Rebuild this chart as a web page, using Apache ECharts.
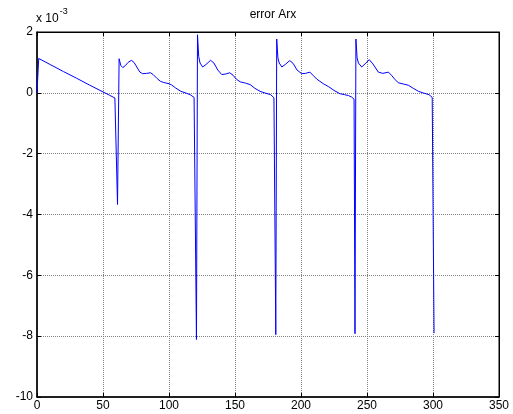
<!DOCTYPE html>
<html>
<head>
<meta charset="utf-8">
<script src="https://cdn.jsdelivr.net/npm/echarts@6/dist/echarts.min.js"></script>
<style>
html,body{margin:0;padding:0;background:#fff;}
#c{width:513px;height:414px;}
</style>
</head>
<body>
<div id="c"></div>
<script>
// x values (time) and y values (error, in units of 1e-3)
var xVals = [
  0, 1.3, 10, 20, 30, 40, 50, 55, 59, 60,
  61, 62.2, 63.5, 65, 67, 69, 71.5, 73.5, 76, 78,
  80, 83, 86, 88, 91, 93.5, 96, 100, 102, 105,
  109, 113, 116, 119, 120,
  120.8, 121.6, 122.5, 123.5, 125.5, 128, 131.5, 134, 137, 140,
  143, 146, 148.5, 151, 154, 158, 161.5, 165, 169, 173,
  177, 179.5, 180.3,
  180.9, 181.6, 182.5, 183.5, 185.5, 188, 191.5, 194, 197, 200.5,
  203.5, 206.8, 209, 212, 216.9, 221, 225, 229.5, 233, 236,
  238.4, 240.2,
  240.9, 241.6, 242.5, 243.5, 246, 248.5, 251.7, 254.5, 258.6, 262,
  266.2, 268.5, 271, 273.7, 277.5, 281.3, 285, 289, 293, 297,
  299.4, 300.2,
  300.8
];
var yVals = [
  0, 1.13, 0.93, 0.70, 0.48, 0.25, 0.03, -0.08, -0.17, -0.21,
  -3.67, 1.12, 0.90, 0.83, 0.90, 1.00, 1.07, 1.00, 0.82, 0.68,
  0.63, 0.64, 0.66, 0.60, 0.47, 0.38, 0.34, 0.30, 0.26, 0.16,
  0.05, -0.01, -0.06, -0.15, -0.21,
  -8.11, 1.91, 1.20, 0.98, 0.85, 0.93, 1.07, 0.98, 0.75, 0.60,
  0.62, 0.66, 0.58, 0.45, 0.36, 0.32, 0.27, 0.15, 0.05, -0.01,
  -0.06, -0.16, -0.21,
  -7.95, 1.77, 1.15, 0.98, 0.85, 0.93, 1.06, 0.97, 0.75, 0.63,
  0.64, 0.68, 0.58, 0.45, 0.30, 0.20, 0.08, -0.03, -0.06, -0.09,
  -0.14, -0.21,
  -7.92, 1.77, 1.15, 0.98, 0.85, 0.95, 1.09, 0.95, 0.68, 0.64,
  0.68, 0.58, 0.45, 0.33, 0.29, 0.25, 0.15, 0.05, -0.01, -0.06,
  -0.15, -0.21,
  -7.90
];
var xTicks = {min: 0, max: 350, interval: 50};
var yTicks = {min: -10, max: 2, interval: 2};
var titleText = 'error Arx';

var data = xVals.map(function (x, i) { return [x, yVals[i]]; });

var font = '"Liberation Sans", Arial, sans-serif';
var chart = echarts.init(document.getElementById('c'), null, {renderer: 'canvas'});
var gridLine = {show: true, lineStyle: {color: '#808080', type: [1, 1], width: 1}};
chart.setOption({
  animation: false,
  backgroundColor: '#fff',
  title: {
    text: titleText, left: 268, top: 4, textAlign: 'center',
    textStyle: {fontFamily: font, fontSize: 12, fontWeight: 'normal', color: '#000'}
  },
  graphic: [{
    type: 'text', left: 36, top: 7,
    style: {
      text: '{a|x 10}{b|-3}',
      rich: {
        a: {fontFamily: font, fontSize: 12, fill: '#000', padding: [6, 0, 0, 0]},
        b: {fontFamily: font, fontSize: 9, fill: '#000', verticalAlign: 'top', padding: [0, 0, 8, 1]}
      }
    }
  }],
  grid: {left: 37, right: 14, top: 32, bottom: 17, show: true, borderColor: '#000', borderWidth: 1},
  xAxis: [{
    type: 'value', min: xTicks.min, max: xTicks.max, interval: xTicks.interval,
    axisLine: {show: true, onZero: false, lineStyle: {color: '#000', width: 1.5}},
    axisTick: {show: true, inside: true, length: 4, lineStyle: {color: '#000'}},
    axisLabel: {fontFamily: font, fontSize: 12, color: '#000', margin: 3},
    splitLine: gridLine
  }, {
    type: 'value', position: 'top', min: xTicks.min, max: xTicks.max, interval: xTicks.interval,
    axisLine: {show: true, onZero: false, lineStyle: {color: '#000'}},
    axisTick: {show: true, inside: true, length: 4, lineStyle: {color: '#000'}},
    axisLabel: {show: false}, splitLine: {show: false}
  }],
  yAxis: [{
    type: 'value', min: yTicks.min, max: yTicks.max, interval: yTicks.interval,
    axisLine: {show: true, onZero: false, lineStyle: {color: '#000', width: 1.5}},
    axisTick: {show: true, inside: true, length: 4, lineStyle: {color: '#000'}},
    axisLabel: {fontFamily: font, fontSize: 12, color: '#000', margin: 4},
    splitLine: gridLine
  }, {
    type: 'value', position: 'right', min: yTicks.min, max: yTicks.max, interval: yTicks.interval,
    axisLine: {show: true, onZero: false, lineStyle: {color: '#000'}},
    axisTick: {show: true, inside: true, length: 4, lineStyle: {color: '#000'}},
    axisLabel: {show: false}, splitLine: {show: false}
  }],
  series: [{
    type: 'line', data: data, showSymbol: false, symbol: 'none',
    lineStyle: {color: '#0000ff', width: 1}, smooth: false
  }]
});
</script>
</body>
</html>
